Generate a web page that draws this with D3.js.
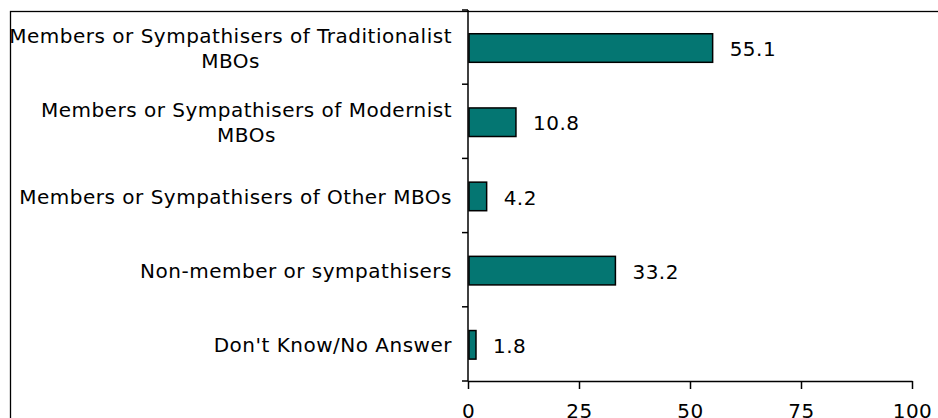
<!DOCTYPE html>
<html>
<head>
<meta charset="utf-8">
<script src="https://cdn.jsdelivr.net/npm/d3@7"></script>
<style>
  body { margin: 0; background: #fff; }
  text { font-family: "DejaVu Sans", Verdana, sans-serif; fill: #000; letter-spacing: 0.5px; }
</style>
</head>
<body>
<div id="chart"></div>
<script>
// categories, each as lines of the label
var categories = [
  "Members or Sympathisers of Traditionalist MBOs",
  "Members or Sympathisers of Modernist MBOs",
  "Members or Sympathisers of Other MBOs",
  "Non-member or sympathisers",
  "Don't Know/No Answer"
]
var labelLines = [
  ["Members or Sympathisers of Traditionalist", "MBOs"],
  ["Members or Sympathisers of Modernist", "MBOs"],
  ["Members or Sympathisers of Other MBOs"],
  ["Non-member or sympathisers"],
  ["Don't Know/No Answer"]
]
var values = [55.1, 10.8, 4.2, 33.2, 1.8]
var xTicks = [0, 25, 50, 75, 100]

var width = 938
var height = 418
var fs = 20

var svg = d3.select("#chart")
  .append("svg")
  .attr("width", width)
  .attr("height", height)

// outer frame (runs off the right and bottom)
svg.append("rect")
  .attr("x", 10.5)
  .attr("y", 11.5)
  .attr("width", 1000)
  .attr("height", 500)
  .attr("fill", "none")
  .attr("stroke", "#000")
  .attr("stroke-width", 1.3)

var x = d3.scaleLinear().domain([0, 100]).range([468, 912])
var y = d3.scaleBand().domain(categories).range([10, 381]).padding(0)
var step = y.step()

// bars
svg.selectAll(".bar")
  .data(values)
  .enter()
  .append("rect")
  .attr("class", "bar")
  .attr("x", x(0) + 1)
  .attr("y", function (d, i) { return y(categories[i]) + step * 0.32 })
  .attr("width", function (d) { return x(d) - x(0) - 1 })
  .attr("height", step * 0.385)
  .attr("fill", "#047672")
  .attr("stroke", "#000")
  .attr("stroke-width", 1.5)

// value labels
svg.selectAll(".val")
  .data(values)
  .enter()
  .append("text")
  .attr("class", "val")
  .attr("x", function (d) { return x(d) + 17 })
  .attr("y", function (d, i) { return y(categories[i]) + step / 2 })
  .attr("dy", "0.45em")
  .attr("font-size", fs)
  .text(function (d) { return d.toFixed(1) })

// category labels, right aligned block, lines centered within it
var labelRight = 452
var lineH = 25
labelLines.forEach(function (lines, i) {
  var cy = y(categories[i]) + step / 2
  var g = svg.append("text")
    .attr("font-size", fs)
    .attr("text-anchor", "end")
  var top = cy - (lines.length - 1) * lineH / 2
  lines.forEach(function (l, j) {
    g.append("tspan")
      .attr("x", labelRight)
      .attr("y", top + j * lineH)
      .attr("dy", "0.42em")
      .text(l)
  })
  if (lines.length > 1) {
    // center shorter lines under the first one
    var spans = g.selectAll("tspan").nodes()
    var w0 = spans[0].getComputedTextLength()
    spans.forEach(function (s, j) {
      if (j > 0) {
        var w = s.getComputedTextLength()
        d3.select(s).attr("x", labelRight - (w0 - w) / 2)
      }
    })
  }
})

// y axis line and ticks at band edges
svg.append("line")
  .attr("x1", x(0)).attr("x2", x(0))
  .attr("y1", 10).attr("y2", 381)
  .attr("stroke", "#000").attr("stroke-width", 1.5)

svg.selectAll(".ytick")
  .data(d3.range(categories.length + 1))
  .enter()
  .append("line")
  .attr("x1", x(0) - 6).attr("x2", x(0))
  .attr("y1", function (i) { return 10 + i * step })
  .attr("y2", function (i) { return 10 + i * step })
  .attr("stroke", "#000").attr("stroke-width", 1.5)

// x axis
var xAxis = d3.axisBottom(x)
  .tickValues(xTicks)
  .tickSize(8)
  .tickSizeOuter(0)
  .tickPadding(15)

var xg = svg.append("g")
  .attr("transform", "translate(0,381)")
  .call(xAxis)

xg.select(".domain").attr("stroke", "#000").attr("stroke-width", 1.5)
xg.selectAll(".tick line").attr("stroke", "#000").attr("stroke-width", 1.5)
xg.selectAll(".tick text")
  .attr("font-size", fs)
  .attr("font-family", "DejaVu Sans, Verdana, sans-serif")
  .attr("fill", "#000")
</script>
</body>
</html>
